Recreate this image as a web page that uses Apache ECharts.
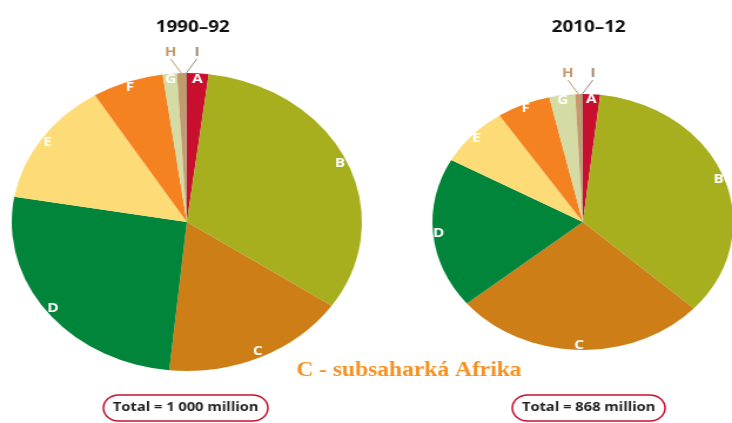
<!DOCTYPE html>
<html>
<head>
<meta charset="utf-8">
<script src="https://cdn.jsdelivr.net/npm/echarts@6/dist/echarts.min.js"></script>
<style>
  html, body { margin: 0; padding: 0; background: #fff; overflow: hidden; }
  #wrap { width: 732px; height: 423px; overflow: hidden; }
  /* the source picture is stretched horizontally, so the chart is too */
  #chart { width: 623px; height: 423px; transform: scaleX(1.175); transform-origin: 0 0; }
</style>
</head>
<body>
<div id="wrap"><div id="chart"></div></div>
<script>
const regions = ["A", "B", "C", "D", "E", "F", "G", "H", "I"];
const hungry1990 = [20, 325, 171, 261, 135, 66, 13, 8, 1];
const hungry2010 = [16, 303, 236, 165, 66, 50, 24, 6, 1];
const periods = ["1990–92", "2010–12"];
const totals = ["Total = 1 000 million", "Total = 868 million"];
const note = "C - subsaharká Afrika";

const colors = ["#C8102E", "#A8AF1E", "#CD7E17", "#00853A", "#FDDC78", "#F58220", "#D5DBA5", "#C39A6B", "#9C8A78"];
const outside = ["H", "I"];

const pies = [
  { center: [159, 222], r: 149 },
  { center: [496, 222], r: 128 }
];

const makeData = (values) =>
  values.map((v, i) => ({
    name: regions[i],
    value: v,
    itemStyle: { color: colors[i] },
    label: outside.includes(regions[i])
      ? { show: true, color: colors[i] }
      : { show: false },
    labelLine: { show: outside.includes(regions[i]), lineStyle: { color: colors[i], width: 1 } }
  }));

// transparent ring that carries the white letters near the rim
const makeRing = (values) =>
  values.map((v, i) => ({
    name: regions[i],
    value: v,
    label: { show: !outside.includes(regions[i]) }
  }));

const series = [];
[hungry1990, hungry2010].forEach((values, k) => {
  const p = pies[k];
  series.push({
    type: "pie",
    center: p.center,
    radius: [0, p.r],
    startAngle: 90,
    silent: true,
    avoidLabelOverlap: false,
    label: {
      position: "outside",
      formatter: "{b}",
      fontFamily: "Open Sans",
      fontWeight: "bold",
      fontSize: 13
    },
    labelLine: { length: 14, length2: 0 },
    labelLayout: (params) => {
      const pts = params.labelLinePoints;
      if (!pts) return {};
      const edge = pts[0];
      const side = regions[params.dataIndex] === "H" ? -9 : 9;
      const x = edge[0] + side;
      const y = edge[1] - 14;
      return {
        x: x,
        y: y,
        align: "center",
        verticalAlign: "bottom",
        labelLinePoints: [[edge[0], edge[1]], [x, y], [x, y]]
      };
    },
    data: makeData(values)
  });
  series.push({
    type: "pie",
    center: p.center,
    radius: [p.r * 0.88, p.r],
    startAngle: 90,
    silent: true,
    itemStyle: { color: "rgba(0,0,0,0)" },
    label: {
      position: "inside",
      formatter: "{b}",
      color: "#fff",
      fontFamily: "Open Sans",
      fontWeight: "bold",
      fontSize: 13
    },
    labelLine: { show: false },
    data: makeRing(values)
  });
});

const titles = [];
periods.forEach((t, k) => {
  titles.push({
    text: t,
    left: pies[k].center[0],
    top: 14,
    textAlign: "center",
    textStyle: { fontFamily: "Open Sans", fontWeight: "bold", fontSize: 16, color: "#111" }
  });
});
const totalX = [150, 493];
totals.forEach((t, k) => {
  titles.push({
    text: t,
    left: totalX[k],
    top: 395,
    textAlign: "center",
    padding: [6, 8, 7, 8],
    borderColor: "#C8102E",
    borderWidth: 1.5,
    borderRadius: 14,
    textStyle: { fontFamily: "Open Sans", fontWeight: "bold", fontSize: 12.5, color: "#222" }
  });
});
titles.push({
  text: note,
  left: 348,
  top: 361,
  textAlign: "center",
  padding: 0,
  textStyle: { fontFamily: "Liberation Serif", fontWeight: "bold", fontSize: 20, color: "#F7901E" }
});

const chart = echarts.init(document.getElementById("chart"));
chart.setOption({
  animation: false,
  title: titles,
  series: series
});
</script>
</body>
</html>
